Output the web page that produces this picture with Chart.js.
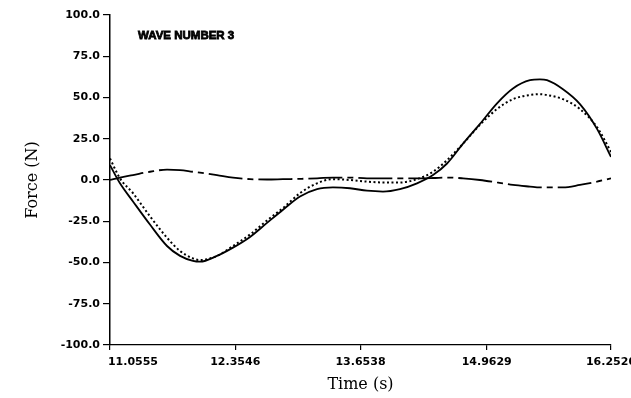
<!DOCTYPE html>
<html>
<head>
<meta charset="utf-8">
<title>Wave number 3 - force</title>
<script src="https://cdn.jsdelivr.net/npm/chart.js@4.4.1/dist/chart.umd.min.js"></script>
<style>
  html, body { margin: 0; padding: 0; background: #fff; overflow: hidden; }
  .wrap { position: relative; width: 631px; height: 398px; }
  canvas { display: block; }
  .wave-label {
    position: absolute;
    left: 138px;
    top: 30px;
    font: bold 11.5px "Liberation Sans", Arial, sans-serif;
    line-height: 11px;
    color: #000;
    -webkit-text-stroke: 0.8px #000;
    white-space: nowrap;
  }
</style>
</head>
<body>
<div class="wrap">
  <canvas id="force-chart" width="631" height="398"></canvas>
  <div class="wave-label">WAVE NUMBER 3</div>
</div>
<script>
// time (s)
const timeValues = [
  11.0555, 11.159, 11.294, 11.470, 11.647, 11.782, 11.916, 11.989, 12.165, 12.331,
  12.508, 12.684, 12.850, 13.026, 13.203, 13.368, 13.545, 13.721, 13.887, 14.063,
  14.240, 14.406, 14.551, 14.717, 14.893, 15.070, 15.235, 15.412, 15.515, 15.588,
  15.754, 15.930, 16.107, 16.252
]

// force (N), one list per line style
const forceSolid = [
  9, -2, -13, -27, -40, -46, -49, -49.5, -46, -41,
  -34.5, -26, -18, -10, -5.5, -4.5, -5, -6.5, -7, -5.5,
  -2, 3, 10, 22, 34, 46.5, 55.5, 60.5, 61, 60.5,
  55, 46, 31, 14
]
const forceDotted = [
  13, 1, -8, -22, -35, -43, -47.5, -48.5, -46, -40,
  -33, -24.5, -17, -8, -2, 0.5, 0, -1, -1.5, -1.5,
  0.5, 5, 12, 22, 33.5, 43, 49, 51.5, 52, 51.5,
  49, 43, 32, 17
]
const forceDashDot = [
  0, 1.5, 3, 5, 6.3, 6, 5, 4.5, 3, 1.5,
  0.5, 0.3, 0.5, 0.7, 1, 1.5, 1.5, 1, 1, 1,
  1, 1.2, 1.5, 1, 0, -1.5, -3, -4, -4.5, -4.5,
  -4.5, -3, -1, 1
]

const xTicks = [11.0555, 12.3546, 13.6538, 14.9629, 16.2520]
const xTickLabels = ['11.0555', '12.3546', '13.6538', '14.9629', '16.2520']

const toPoints = (ys) => ys.map((y, i) => ({ x: timeValues[i], y }))

const tickFont = { family: 'DejaVu Sans', size: 11, weight: 'bold' }
const titleFont = { family: 'DejaVu Serif', size: 16 }

const lineBase = {
  borderColor: '#000',
  pointRadius: 0,
  fill: false,
  cubicInterpolationMode: 'monotone'
}

new Chart(document.getElementById('force-chart'), {
  type: 'line',
  data: {
    datasets: [
      { ...lineBase, data: toPoints(forceSolid), borderWidth: 1.8 },
      { ...lineBase, data: toPoints(forceDotted), borderWidth: 2, borderDash: [2, 2.5] },
      { ...lineBase, data: toPoints(forceDashDot), borderWidth: 1.8, borderDash: [34, 5, 6, 5] }
    ]
  },
  options: {
    responsive: false,
    animation: false,
    devicePixelRatio: 1,
    layout: { padding: { top: 15, right: 20, left: 0, bottom: 0 } },
    plugins: {
      legend: { display: false },
      tooltip: { enabled: false }
    },
    scales: {
      x: {
        type: 'linear',
        min: 11.0555,
        max: 16.252,
        afterBuildTicks: (scale) => {
          scale.ticks = xTicks.map(v => ({ value: v }))
        },
        afterFit: (scale) => {
          scale.height = 53
          scale.paddingLeft = 0
          scale.paddingRight = 0
        },
        grid: { drawOnChartArea: false, drawTicks: true, tickLength: 5, color: '#000', lineWidth: 1.2 },
        border: { display: true, color: '#000', width: 1.3 },
        ticks: {
          autoSkip: false,
          maxRotation: 0,
          padding: 6,
          color: '#000',
          font: tickFont,
          callback: (value) => {
            const i = xTicks.indexOf(value)
            const label = xTickLabels[i]
            // first label starts at its tick instead of centring on it
            return i === 0 ? label.padStart(label.length + 12) : label
          }
        },
        title: {
          display: true,
          text: 'Time (s)',
          color: '#000',
          font: titleFont,
          padding: { top: 0, bottom: 4 }
        }
      },
      y: {
        min: -100,
        max: 100,
        afterFit: (scale) => {
          scale.width = 110
          scale.paddingTop = 0
          scale.paddingBottom = 0
        },
        grid: { drawOnChartArea: false, drawTicks: true, tickLength: 7, color: '#000', lineWidth: 1.2 },
        border: { display: true, color: '#000', width: 1.5 },
        ticks: {
          stepSize: 25,
          padding: 3,
          color: '#000',
          font: tickFont,
          callback: (v) => v.toFixed(1)
        },
        title: {
          display: true,
          text: 'Force (N)',
          color: '#000',
          font: titleFont,
          padding: { top: 23, bottom: 0 }
        }
      }
    }
  }
})
</script>
</body>
</html>
